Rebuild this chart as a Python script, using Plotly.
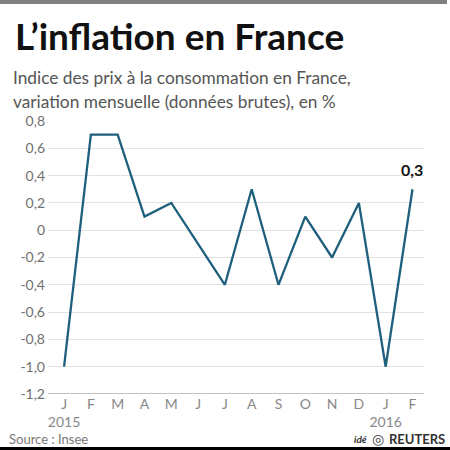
import plotly.graph_objects as go

months = ["J", "F", "M", "A", "M", "J", "J", "A", "S", "O", "N", "D", "J", "F"]
tick_labels = ["J<br>2015", "F", "M", "A", "M", "J", "J", "A", "S", "O", "N", "D", "J<br>2016", "F"]
values = [-1.0, 0.7, 0.7, 0.1, 0.2, -0.1, -0.4, 0.3, -0.4, 0.1, -0.2, 0.2, -1.0, 0.3]
y_ticks = [0.8, 0.6, 0.4, 0.2, 0, -0.2, -0.4, -0.6, -0.8, -1.0, -1.2]
y_tick_text = ["0,8", "0,6", "0,4", "0,2", "0", "-0,2", "-0,4", "-0,6", "-0,8", "-1,0", "-1,2"]

x = list(range(len(values)))

W, H = 450, 450
L, R, T, B = 48, 26, 121, 56
PW, PH = W - L - R, H - T - B

def px(p):
    return (p - L) / PW

def py(p):
    return (H - B - p) / PH

FONT = "Lato"
GRAY = "#555555"

fig = go.Figure()
fig.add_trace(go.Scatter(
    x=x, y=values, mode="lines",
    line=dict(color="#1d5f7c", width=2.3),
    hoverinfo="skip", showlegend=False, cliponaxis=False,
))

fig.update_layout(
    width=W, height=H,
    margin=dict(l=L, r=R, t=T, b=B),
    paper_bgcolor="white", plot_bgcolor="white",
    font=dict(family=FONT, color=GRAY, size=13),
    xaxis=dict(
        range=[-0.6, 13.43], tickmode="array", tickvals=x, ticktext=tick_labels,
        showgrid=False, zeroline=False, showline=False, ticks="",
        tickfont=dict(size=14, color="#888888"), fixedrange=True,
    ),
    yaxis=dict(
        range=[-1.2, 0.8], tickmode="array", tickvals=y_ticks, ticktext=y_tick_text,
        showgrid=True, gridcolor="#e3e3e3", gridwidth=1, zeroline=False,
        showline=False, ticks="", tickfont=dict(size=14, color="#707070"),
        ticklabelstandoff=2, fixedrange=True,
    ),
    shapes=[
        dict(type="line", xref="paper", yref="y", x0=0, x1=1, y0=-1.2, y1=-1.2,
             line=dict(color="#888888", width=1.2)),
        dict(type="rect", xref="paper", yref="paper", x0=px(0), x1=px(447),
             y0=py(4), y1=py(0), fillcolor="#808080", line=dict(width=0)),
        dict(type="rect", xref="paper", yref="paper", x0=px(0), x1=px(450),
             y0=py(450), y1=py(447), fillcolor="#000000", line=dict(width=0)),
    ],
)

annotations = [
    dict(text="<b>L’inflation en France</b>", x=px(13), y=py(35), xanchor="left", yanchor="middle",
         font=dict(size=37, color="#111111", family=FONT)),
    dict(text="Indice des prix à la consommation en France,", x=px(11), y=py(78),
         xanchor="left", yanchor="middle", font=dict(size=17.3, color=GRAY, family=FONT)),
    dict(text="variation mensuelle (données brutes), en %", x=px(11), y=py(101),
         xanchor="left", yanchor="middle", font=dict(size=17.3, color=GRAY, family=FONT)),
    dict(text="<b>0,3</b>", x=x[-1], y=values[-1], xref="x", yref="y", xanchor="center",
         yanchor="bottom", yshift=8, font=dict(size=16, color="#111111", family=FONT)),
    dict(text="Source : Insee", x=px(7), y=py(439), xanchor="left", yanchor="middle",
         font=dict(size=13, color="#777777", family=FONT)),
    dict(text="<i><b>idé</b></i>", x=px(369), y=py(439), xanchor="right", yanchor="middle",
         font=dict(size=10, color="#333333", family=FONT)),
    dict(text="◎", x=px(378), y=py(439), xanchor="center", yanchor="middle",
         font=dict(size=14, color="#444444", family="DejaVu Sans")),
    dict(text="<b>REUTERS</b>", x=px(447), y=py(439), xanchor="right", yanchor="middle",
         font=dict(size=13, color="#333333", family=FONT)),
]
for a in annotations:
    a.setdefault("xref", "paper")
    a.setdefault("yref", "paper")
    a["showarrow"] = False
fig.update_layout(annotations=annotations)

fig.write_html("out.html")
